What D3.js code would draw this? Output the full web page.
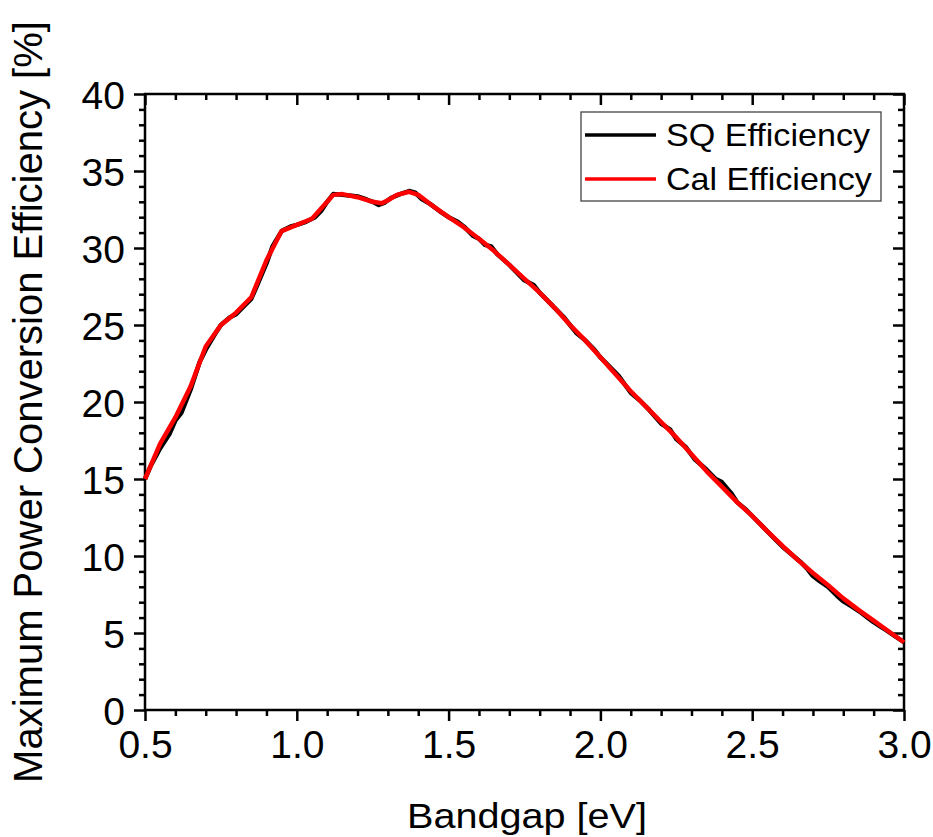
<!DOCTYPE html>
<html><head><meta charset="utf-8">
<script src="https://cdn.jsdelivr.net/npm/d3@7"></script>
<style>body{margin:0;background:#fff}svg{display:block}text{font-family:"Liberation Sans",Arial,sans-serif}</style>
</head><body>
<svg id="c" width="933" height="837"></svg>
<script>
const sqBandgap = [0.50,0.52,0.55,0.58,0.60,0.62,0.65,0.68,0.70,0.73,0.75,0.78,0.80,0.83,0.85,0.87,0.90,0.92,0.95,0.98,1.00,1.03,1.06,1.08,1.10,1.12,1.15,1.18,1.20,1.23,1.25,1.27,1.29,1.31,1.34,1.37,1.39,1.41,1.44,1.47,1.50,1.53,1.55,1.58,1.60,1.62,1.64,1.66,1.70,1.72,1.75,1.78,1.80,1.83,1.85,1.88,1.90,1.92,1.95,1.98,2.00,2.03,2.06,2.10,2.13,2.16,2.20,2.23,2.25,2.28,2.31,2.35,2.38,2.40,2.43,2.45,2.48,2.50,2.53,2.55,2.58,2.60,2.63,2.66,2.68,2.70,2.72,2.75,2.78,2.80,2.83,2.86,2.88,2.90,2.92,2.94,2.97,3.00];
const sqEff = [15.0,15.9,17.0,17.9,18.8,19.3,20.8,22.6,23.4,24.4,25.0,25.5,25.7,26.3,26.7,27.6,29.0,30.1,31.1,31.4,31.5,31.7,32.0,32.4,33.0,33.5,33.45,33.4,33.35,33.15,33.0,32.8,32.95,33.25,33.5,33.7,33.6,33.2,32.85,32.4,32.0,31.7,31.4,30.8,30.6,30.2,30.1,29.6,28.9,28.5,27.9,27.6,27.1,26.5,26.1,25.5,25.0,24.5,24.0,23.4,22.9,22.3,21.7,20.6,20.1,19.5,18.6,18.2,17.6,17.1,16.3,15.6,15.0,14.8,14.1,13.5,13.0,12.6,12.0,11.6,11.0,10.6,10.1,9.6,9.2,8.7,8.4,8.0,7.4,7.05,6.7,6.3,6.0,5.7,5.45,5.2,4.8,4.4];
const calBandgap = [0.50,0.55,0.60,0.65,0.70,0.75,0.80,0.85,0.90,0.95,1.00,1.05,1.10,1.12,1.15,1.20,1.25,1.28,1.30,1.33,1.37,1.40,1.45,1.50,1.55,1.60,1.65,1.70,1.75,1.80,1.85,1.90,1.95,2.00,2.05,2.10,2.15,2.20,2.25,2.30,2.35,2.40,2.45,2.50,2.55,2.60,2.65,2.70,2.75,2.80,2.85,2.90,2.95,3.00];
const calEff = [15.0,17.3,19.0,21.0,23.6,25.0,25.8,26.8,29.2,31.1,31.5,31.9,33.0,33.45,33.5,33.3,33.0,32.9,33.1,33.45,33.65,33.45,32.7,32.0,31.35,30.6,29.8,28.9,28.0,27.1,26.1,25.0,24.0,22.9,21.8,20.7,19.7,18.7,17.7,16.6,15.5,14.5,13.5,12.6,11.6,10.65,9.75,8.9,8.1,7.25,6.5,5.8,5.1,4.4];
const xTicks = [0.5,1.0,1.5,2.0,2.5,3.0];
const yTicks = [0,5,10,15,20,25,30,35,40];
const seriesNames = ["SQ Efficiency","Cal Efficiency"];
const seriesColors = ["#000000","#ff0000"];

const svg = d3.select("#c");
const L=145, R=904, T=94, B=710;
const x = d3.scaleLinear().domain([0.5,3.0]).range([L,R]);
const y = d3.scaleLinear().domain([0,40]).range([B,T]);
const xMinor = d3.range(5,31).map(d=>d/10).filter(d=>!xTicks.some(t=>Math.abs(t-d)<1e-9));
const yMinor = d3.range(0,41).filter(d=>d%5!==0);
const sw = 2.5;

function ticks(g){ g.selectAll("path").remove(); g.selectAll("line").attr("stroke","#000").attr("stroke-width",sw); }

// bottom axis
svg.append("g").attr("transform",`translate(0,${B})`)
  .call(d3.axisBottom(x).tickValues(xTicks).tickFormat(d3.format(".1f")).tickSize(11).tickPadding(9))
  .call(ticks).call(g=>g.selectAll("text").attr("font-size",39).attr("fill","#000"));
svg.append("g").attr("transform",`translate(0,${B})`)
  .call(d3.axisBottom(x).tickValues(xMinor).tickFormat("").tickSize(6)).call(ticks);
// top axis (inward)
svg.append("g").attr("transform",`translate(0,${T})`)
  .call(d3.axisBottom(x).tickValues(xTicks).tickFormat("").tickSize(11)).call(ticks);
svg.append("g").attr("transform",`translate(0,${T})`)
  .call(d3.axisBottom(x).tickValues(xMinor).tickFormat("").tickSize(6)).call(ticks);
// left axis
svg.append("g").attr("transform",`translate(${L},0)`)
  .call(d3.axisLeft(y).tickValues(yTicks).tickSize(11).tickPadding(9))
  .call(ticks).call(g=>g.selectAll("text").attr("font-size",39).attr("fill","#000").attr("dy","0.36em"));
svg.append("g").attr("transform",`translate(${L},0)`)
  .call(d3.axisLeft(y).tickValues(yMinor).tickFormat("").tickSize(6)).call(ticks);
// right axis (inward)
svg.append("g").attr("transform",`translate(${R},0)`)
  .call(d3.axisLeft(y).tickValues(yTicks).tickFormat("").tickSize(11)).call(ticks);
svg.append("g").attr("transform",`translate(${R},0)`)
  .call(d3.axisLeft(y).tickValues(yMinor).tickFormat("").tickSize(6)).call(ticks);

// frame
svg.append("rect").attr("x",L).attr("y",T).attr("width",R-L).attr("height",B-T)
  .attr("fill","none").attr("stroke","#000").attr("stroke-width",sw);

const line = d3.line().x(d=>x(d[0])).y(d=>y(d[1]));
svg.append("path").datum(sqBandgap.map((b,i)=>[b,sqEff[i]]))
  .attr("d",line).attr("fill","none").attr("stroke",seriesColors[0]).attr("stroke-width",4.5).attr("stroke-linejoin","round");
svg.append("path").datum(calBandgap.map((b,i)=>[b,calEff[i]]))
  .attr("d",line).attr("fill","none").attr("stroke",seriesColors[1]).attr("stroke-width",4.5).attr("stroke-linejoin","round");

// legend
const lg = svg.append("g");
lg.append("rect").attr("x",581).attr("y",112).attr("width",300).attr("height",89)
  .attr("fill","#fff").attr("stroke","#444").attr("stroke-width",1.3);
seriesNames.forEach((n,i)=>{
  const yy = 135 + i*44;
  lg.append("line").attr("x1",585).attr("x2",656).attr("y1",yy).attr("y2",yy)
    .attr("stroke",seriesColors[i]).attr("stroke-width",3.5);
  lg.append("text").attr("transform",`translate(666,${yy+11}) scale(1.1,1)`).attr("font-size",31).text(n);
});

// titles
svg.append("text").attr("transform",`translate(527,828) scale(1.1,1)`).attr("text-anchor","middle").attr("font-size",36).text("Bandgap [eV]");
svg.append("text").attr("transform",`translate(42,402) rotate(-90)`).attr("text-anchor","middle")
  .attr("font-size",40).text("Maximum Power Conversion Efficiency [%]");
</script>
</body></html>
